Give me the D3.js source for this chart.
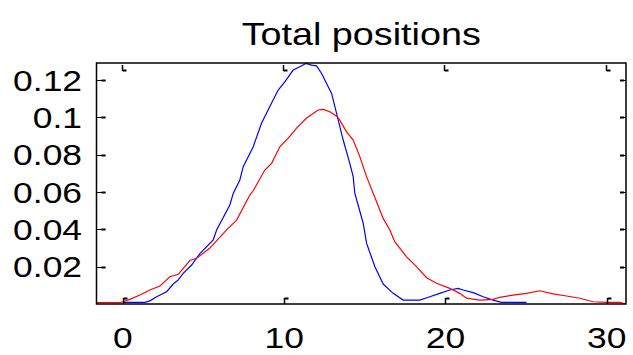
<!DOCTYPE html>
<html>
<head>
<meta charset="utf-8">
<script src="https://cdn.jsdelivr.net/npm/d3@7"></script>
<style>
  body { margin: 0; background: #fff; }
  text { font-family: "Liberation Sans", Arial, sans-serif; fill: #000; }
</style>
</head>
<body>
<div id="chart"></div>
<script>
// values
var blueX = [0.02, 1.36, 1.67, 2.09, 2.71, 3.12, 3.43, 3.74, 4.26, 4.77, 5.60, 5.81, 6.63, 6.84, 7.25, 7.46,
    8.08, 8.60, 9.22, 9.63, 10.05, 10.56, 10.97, 11.35, 11.70, 12.01, 12.32, 12.73, 12.94, 13.25, 13.66,
    14.07, 14.28, 14.38, 14.90, 15.11, 15.62, 16.14, 16.76, 17.38, 18.41, 19.03, 19.65, 20.27, 20.79,
    21.10, 21.72, 22.34, 22.96, 23.48, 25.03];
var blueY = [0.0009, 0.0009, 0.0017, 0.0039, 0.0066, 0.0107, 0.0129, 0.0164, 0.0209, 0.0270, 0.0343, 0.0397,
    0.0531, 0.0593, 0.0665, 0.0736, 0.0843, 0.0970, 0.1077, 0.1147, 0.1192, 0.1254, 0.1272, 0.1290, 0.1281,
    0.1277, 0.1236, 0.1165, 0.1129, 0.1022, 0.0879, 0.0754, 0.0683, 0.0594, 0.0433, 0.0326, 0.0201, 0.0107,
    0.0057, 0.0021, 0.0021, 0.0039, 0.0057, 0.0075, 0.0084, 0.0075, 0.0061, 0.0039, 0.0021, 0.0009, 0.0009];

var redX = [-1.64, -0.19, 0, 0.43, 1.05, 1.67, 2.29, 2.91, 3.43, 4.15, 4.57, 5.39, 6.43, 7.05, 7.87, 8.08,
    8.80, 9.22, 9.73, 10.25, 10.77, 11.39, 12.11, 12.42, 12.83, 13.25, 13.45, 13.87, 14.28, 14.69, 15.11,
    15.52, 16.14, 16.55, 16.86, 17.59, 18.21, 18.83, 19.45, 20.27, 20.89, 21.31, 22.13, 22.96, 23.37, 24.20,
    25.03, 25.85, 26.68, 27.51, 28.33, 29.16, 29.99, 30.81, 31.18];
var redY = [0.0007, 0.0007, 0.0012, 0.0025, 0.0048, 0.0075, 0.0096, 0.0146, 0.0159, 0.0233, 0.0245, 0.0300,
    0.0397, 0.0450, 0.0584, 0.0607, 0.0718, 0.0754, 0.0843, 0.0889, 0.0943, 0.0997, 0.1040, 0.1043, 0.1031,
    0.1007, 0.0986, 0.0923, 0.0879, 0.0790, 0.0683, 0.0594, 0.0459, 0.0397, 0.0334, 0.0253, 0.0200, 0.0141,
    0.0111, 0.0084, 0.0057, 0.0031, 0.0021, 0.0025, 0.0036, 0.0048, 0.0057, 0.0071, 0.0054, 0.0043, 0.0031,
    0.0012, 0.0009, 0.0009, 0.0000];

var xTicks = [0, 10, 20, 30];
var yTicks = [0.02, 0.04, 0.06, 0.08, 0.1, 0.12];
var yTickLabels = ["0.02", "0.04", "0.06", "0.08", "0.1", "0.12"];
var title = "Total positions";

var W = 633, H = 355;
var plotLeft = 96.5, plotRight = 626, plotTop = 63, plotBottom = 304;
var stretch = 1.18; // text in the picture is wider than tall
var fontSize = 30;

var x = d3.scaleLinear().domain([-1.64, 31.2]).range([plotLeft, plotRight]);
var y = d3.scaleLinear().domain([0, 0.1292]).range([plotBottom, plotTop]);

var svg = d3.select("#chart").append("svg")
    .attr("width", W)
    .attr("height", H);

svg.append("clipPath").attr("id", "plotclip")
    .append("rect")
    .attr("x", plotLeft).attr("y", plotTop)
    .attr("width", plotRight - plotLeft).attr("height", plotBottom - plotTop);

function line(xs, ys){
    var pts = xs.map(function(d, i){ return [d, ys[i]]; });
    return d3.line().x(function(d){ return x(d[0]); }).y(function(d){ return y(d[1]); })(pts);
}

var plot = svg.append("g").attr("clip-path", "url(#plotclip)");

plot.append("path")
    .attr("d", line(blueX, blueY))
    .attr("fill", "none")
    .attr("stroke", "#0000ff")
    .attr("stroke-width", 1.2);

plot.append("path")
    .attr("d", line(redX, redY))
    .attr("fill", "none")
    .attr("stroke", "#ff0000")
    .attr("stroke-width", 1.2);

// frame
svg.append("rect")
    .attr("x", plotLeft).attr("y", plotTop)
    .attr("width", plotRight - plotLeft).attr("height", plotBottom - plotTop)
    .attr("fill", "none")
    .attr("stroke", "#000")
    .attr("stroke-width", 1.5);

// y ticks, both sides, pointing inward
var ticks = svg.append("g").attr("stroke", "#000");
yTicks.forEach(function(v){
    var yy = Math.round(y(v)) + 0.5;
    ticks.append("line").attr("x1", plotLeft).attr("x2", plotLeft + 9).attr("y1", yy).attr("y2", yy).attr("stroke-width", 1);
    ticks.append("line").attr("x1", plotLeft + 5).attr("x2", plotLeft + 9).attr("y1", yy).attr("y2", yy).attr("stroke-width", 2);
    ticks.append("line").attr("x1", plotRight - 6).attr("x2", plotRight).attr("y1", yy).attr("y2", yy).attr("stroke-width", 1);
    ticks.append("line").attr("x1", plotRight - 6).attr("x2", plotRight - 2).attr("y1", yy).attr("y2", yy).attr("stroke-width", 2);
});

// x ticks, small hooks at top and bottom
xTicks.forEach(function(v){
    var xx = Math.round(x(v)) + 0.5;
    ticks.append("line").attr("x1", xx).attr("x2", xx).attr("y1", plotBottom).attr("y2", plotBottom - 6).attr("stroke-width", 1.5);
    ticks.append("line").attr("x1", xx).attr("x2", xx + 4).attr("y1", plotBottom - 5.5).attr("y2", plotBottom - 5.5).attr("stroke-width", 2);
    ticks.append("line").attr("x1", xx - 1).attr("x2", xx - 1).attr("y1", plotTop + 2).attr("y2", plotTop + 8).attr("stroke-width", 1.5);
    ticks.append("line").attr("x1", xx - 1).attr("x2", xx + 3).attr("y1", plotTop + 7.5).attr("y2", plotTop + 7.5).attr("stroke-width", 2);
});

// tick labels
svg.append("g").selectAll("text")
    .data(yTicks)
    .join("text")
    .attr("transform", function(d){ return "translate(82," + y(d) + ") scale(" + stretch + ",1)"; })
    .attr("text-anchor", "end")
    .attr("dominant-baseline", "central")
    .attr("font-size", fontSize)
    .text(function(d, i){ return yTickLabels[i]; });

svg.append("g").selectAll("text")
    .data(xTicks)
    .join("text")
    .attr("transform", function(d){ return "translate(" + x(d) + ",348) scale(" + stretch + ",1)"; })
    .attr("text-anchor", "middle")
    .attr("font-size", fontSize)
    .text(function(d){ return d; });

svg.append("text")
    .attr("transform", "translate(" + ((plotLeft + plotRight) / 2) + ",45) scale(" + stretch + ",1)")
    .attr("text-anchor", "middle")
    .attr("font-size", 32)
    .text(title);
</script>
</body>
</html>
